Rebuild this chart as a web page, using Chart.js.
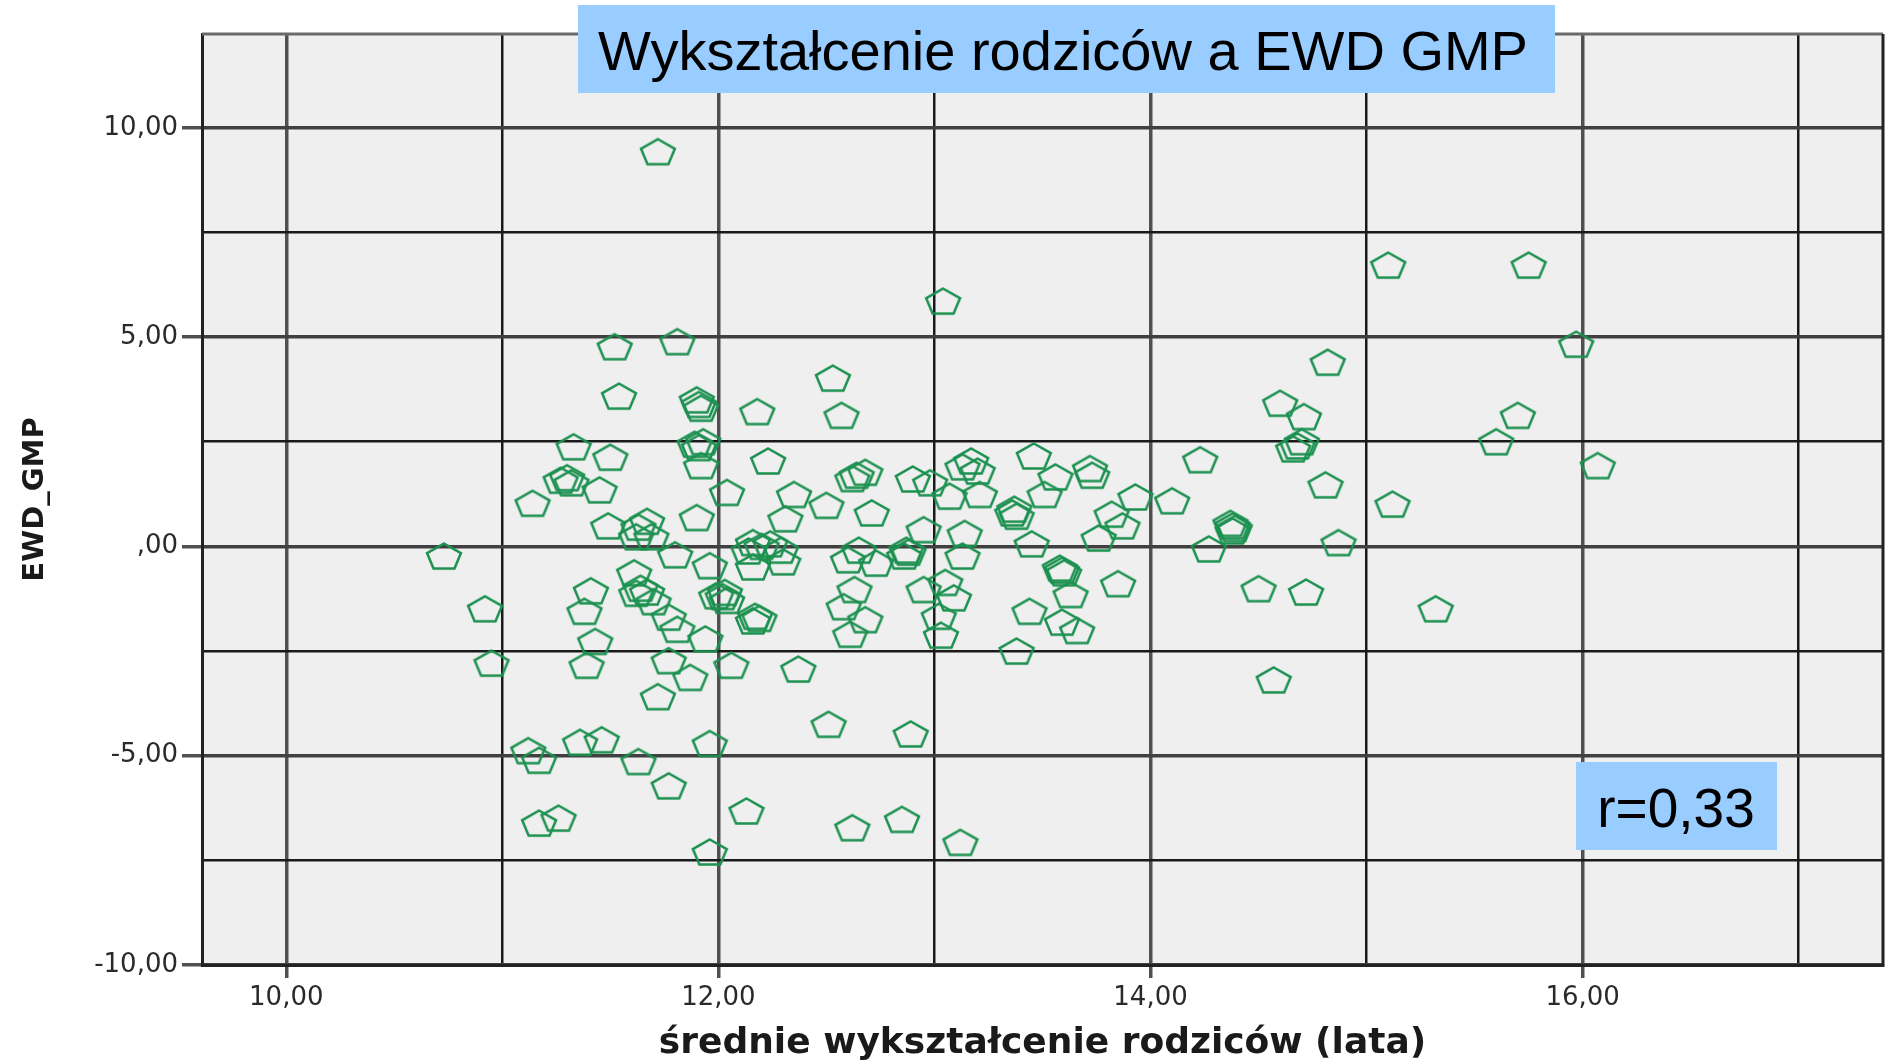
<!DOCTYPE html>
<html>
<head>
<meta charset="utf-8">
<title>Wykształcenie rodziców a EWD GMP</title>
<script src="https://cdn.jsdelivr.net/npm/chart.js"></script>
<style>
  html, body { margin: 0; padding: 0; background: #ffffff; overflow: hidden; }
  canvas { display: block; }
</style>
</head>
<body>
<canvas id="scatter" width="1889" height="1063"></canvas>
<script>
// average parents' education (years) for each school
const eduYears = [
  11.72, 13.04, 15.10, 15.75, 15.97, 14.82, 11.52, 11.81, 11.54, 11.90,
  11.91, 11.92, 12.18, 12.53, 12.57, 14.60, 14.71, 15.70, 15.60, 16.07,
  14.68, 14.70, 14.66, 15.12, 14.81, 14.87, 14.23, 14.10, 14.27, 14.38,
  14.39, 14.37, 14.38, 14.50, 14.72, 15.32, 14.57, 13.46, 13.72, 13.73,
  13.56, 13.51, 13.93, 13.37, 13.36, 13.38, 13.82, 13.87, 13.76, 13.45,
  13.59, 13.60, 13.58, 13.85, 13.63, 13.44, 13.59, 13.66, 13.38, 13.17,
  13.13, 13.20, 13.21, 13.07, 12.98, 12.90, 12.95, 13.14, 12.88, 12.86,
  12.87, 13.13, 12.95, 13.05, 13.09, 13.02, 13.03, 12.89, 12.85, 13.12,
  12.64, 12.68, 12.62, 12.35, 12.50, 12.71, 12.31, 12.23, 12.04, 12.65,
  12.60, 12.73, 12.63, 12.58, 12.68, 12.61, 12.37, 12.51, 12.62, 12.13,
  12.24, 12.16, 12.29, 12.20, 12.30, 12.16, 12.14, 12.17, 12.16, 12.19,
  12.03, 12.02, 12.04, 12.06, 11.91, 11.93, 11.89, 11.92, 11.90, 11.80,
  11.96, 11.77, 11.81, 11.94, 11.77, 11.87, 11.72, 11.96, 11.77, 11.96,
  11.99, 11.67, 11.63, 11.62, 11.69, 11.49, 11.61, 11.64, 11.62, 11.67,
  11.70, 11.41, 11.38, 11.43, 11.39, 11.36, 11.46, 11.63, 11.33, 11.50,
  11.30, 11.27, 11.32, 11.45, 11.14, 10.73, 10.92, 10.95, 11.12, 11.17,
  11.17, 11.26
];

// EWD GMP value of the same schools
const ewdGmp = [
   9.43,  5.86,  6.72,  6.72,  4.83,  4.40,  4.77,  4.89,  3.59,  3.50,
   3.39,  3.30,  3.22,  4.02,  3.13,  3.42,  3.10,  3.13,  2.50,  1.93,
   2.40,  2.50,  2.33,  1.01,  1.47,  0.09,  2.07,  1.09, -0.06,  0.49,
   0.43,  0.55,  0.37, -1.01, -1.09, -1.49, -3.19,  2.16,  1.86,  1.70,
   1.66,  1.24,  1.18,  0.89,  0.80,  0.72,  0.77,  0.49,  0.20,  0.06,
  -0.57, -0.63, -0.52, -0.89, -1.15, -1.55, -1.81, -2.01, -2.50,  2.04,
   1.90,  1.80,  1.24,  1.20,  1.52,  1.61,  0.40,  0.31, -0.14, -0.23,
  -0.09, -0.23, -1.03, -0.86, -1.23, -1.67, -2.12, -4.48, -6.52, -7.07,
   1.70,  1.77,  1.62,  1.24,  0.98,  0.80,  0.66,  2.04,  1.29, -0.09,
  -0.32, -0.40, -1.03, -1.44, -1.75, -2.10, -2.93, -4.25, -6.72, -6.32,
   0.06,  0.09, -0.09,  0.00, -0.37, -0.49, -0.11, -1.67, -1.78, -1.72,
  -1.10, -1.20, -1.29, -2.84,  2.36,  2.50,  2.44,  1.93,  0.69, -0.20,
  -0.46, -1.69, -1.98, -2.21, -2.73, -3.13, -3.59, -4.71, -5.72, -7.30,
  -1.18,  0.60,  0.46,  0.23,  0.23,  0.49, -0.63, -1.00, -1.12, -1.09,
  -1.32, -1.06, -1.55, -2.27, -2.84, -4.68, -4.62, -5.14,  2.38,  2.13,
   1.64,  1.58,  1.52,  1.35,  1.03, -0.23, -1.49, -2.79, -4.88, -5.11,
  -6.61, -6.49
];

// grid lines and which of them carry a label
const xTickValues = [10, 11, 12, 13, 14, 15, 16, 17];
const xLabelled = [10, 12, 14, 16];
const yTickValues = [-10, -7.5, -5, -2.5, 0, 2.5, 5, 7.5, 10];
const yLabelled = [-10, -5, 0, 5, 10];

const chartTitle = 'Wykształcenie rodziców a EWD GMP';
const corrLabel = 'r=0,33';
const xTitle = 'średnie wykształcenie rodziców (lata)';
const yTitle = 'EWD_GMP';

// SPSS style numbers: 10,00  5,00  ,00  -5,00
function spssNumber(v) {
  let s = Math.abs(v).toFixed(2).replace('.', ',');
  if (Math.abs(v) < 1) s = s.replace(/^0/, '');
  return (v < 0 ? '-' : '') + s;
}

// hollow pentagon marker, a bit wider than tall like in the picture
function makePentagon() {
  const c = document.createElement('canvas');
  c.width = 40;
  c.height = 32;
  const g = c.getContext('2d');
  const rx = 17.8, ry = 13.8;
  const cx = 20, cy = 16 + ry * 0.0955;
  g.beginPath();
  for (let k = 0; k < 5; k++) {
    const a = -Math.PI / 2 + k * 2 * Math.PI / 5;
    const px = cx + rx * Math.cos(a), py = cy + ry * Math.sin(a);
    if (k === 0) g.moveTo(px, py); else g.lineTo(px, py);
  }
  g.closePath();
  g.strokeStyle = '#1c9150';
  g.lineWidth = 2.5;
  g.lineJoin = 'miter';
  g.stroke();
  return c;
}

const plotDecor = {
  id: 'plotDecor',
  beforeDraw(chart) {
    const { ctx, chartArea: a } = chart;
    ctx.save();
    ctx.fillStyle = '#efefef';
    ctx.fillRect(a.left, a.top, a.right - a.left, a.bottom - a.top);
    ctx.restore();
  },
  beforeDatasetsDraw(chart) {
    const { ctx, chartArea: a } = chart;
    ctx.save();
    ctx.lineWidth = 3;
    ctx.strokeStyle = '#6a6a6a';
    ctx.beginPath();
    ctx.moveTo(a.left, a.top);
    ctx.lineTo(a.right, a.top);
    ctx.stroke();
    ctx.strokeStyle = '#222222';
    ctx.beginPath();
    ctx.moveTo(a.right, a.top);
    ctx.lineTo(a.right, a.bottom);
    ctx.stroke();
    ctx.restore();
  },
  afterDraw(chart) {
    const ctx = chart.ctx;
    ctx.save();
    // title box
    ctx.fillStyle = '#99ccff';
    ctx.fillRect(578, 5, 977, 88);
    ctx.fillStyle = '#000000';
    ctx.font = '56px "Liberation Sans", Arial, sans-serif';
    ctx.textBaseline = 'alphabetic';
    ctx.textAlign = 'center';
    ctx.fillText(chartTitle, 1063, 70);
    // correlation box
    ctx.fillStyle = '#99ccff';
    ctx.fillRect(1576, 762, 201, 88);
    ctx.fillStyle = '#000000';
    ctx.font = '55px "Liberation Sans", Arial, sans-serif';
    ctx.fillText(corrLabel, 1676, 827);
    ctx.restore();
  }
};

function isLabelled(list, v) {
  return list.some(t => Math.abs(t - v) < 1e-6);
}

const points = eduYears.map((x, i) => ({ x: x, y: ewdGmp[i] }));

new Chart(document.getElementById('scatter'), {
  type: 'scatter',
  data: {
    datasets: [{
      label: 'EWD_GMP',
      data: points,
      pointStyle: makePentagon(),
      pointRadius: 16,
      pointHoverRadius: 16
    }]
  },
  options: {
    responsive: false,
    maintainAspectRatio: false,
    animation: false,
    devicePixelRatio: 1,
    layout: { autoPadding: false, padding: { top: 34, right: 6, left: 0, bottom: 0 } },
    plugins: {
      legend: { display: false },
      tooltip: { enabled: false },
      title: { display: false }
    },
    scales: {
      x: {
        type: 'linear',
        min: 9.61,
        max: 17.39,
        afterBuildTicks: axis => { axis.ticks = xTickValues.map(v => ({ value: v })); },
        afterFit: axis => {
          axis.height = 98;
          axis.paddingLeft = 0;
          axis.paddingRight = 0;
        },
        ticks: {
          autoSkip: false,
          maxRotation: 0,
          padding: 5,
          color: '#2a2a2a',
          font: { family: '"DejaVu Sans", sans-serif', size: 26 },
          callback: v => isLabelled(xLabelled, v) ? spssNumber(v) : ''
        },
        grid: {
          color: c => isLabelled(xLabelled, c.tick.value) ? '#505050' : '#1a1a1a',
          lineWidth: c => isLabelled(xLabelled, c.tick.value) ? 3.5 : 2.5,
          tickColor: c => isLabelled(xLabelled, c.tick.value) ? '#505050' : 'rgba(0,0,0,0)',
          tickLength: 13,
          tickWidth: 3.5
        },
        border: { display: true, color: '#222222', width: 3 },
        title: {
          display: true,
          text: xTitle,
          color: '#1a1a1a',
          font: { family: '"DejaVu Sans", sans-serif', size: 36, weight: 'bold', lineHeight: 1.05 },
          padding: { top: 0, bottom: 0 }
        }
      },
      y: {
        type: 'linear',
        min: -10,
        max: 12.24,
        afterBuildTicks: axis => { axis.ticks = yTickValues.map(v => ({ value: v })); },
        afterFit: axis => { axis.width = 202; },
        ticks: {
          autoSkip: false,
          padding: 4,
          color: '#2a2a2a',
          font: { family: '"DejaVu Sans", sans-serif', size: 26 },
          callback: v => isLabelled(yLabelled, v) ? spssNumber(v) : ''
        },
        grid: {
          color: c => isLabelled(yLabelled, c.tick.value) ? '#404040' : '#1a1a1a',
          lineWidth: c => isLabelled(yLabelled, c.tick.value) ? 3.5 : 2.5,
          tickColor: c => isLabelled(yLabelled, c.tick.value) ? '#505050' : 'rgba(0,0,0,0)',
          tickLength: 20,
          tickWidth: 3.5
        },
        border: { display: true, color: '#222222', width: 3 },
        title: {
          display: true,
          text: yTitle,
          color: '#1a1a1a',
          font: { family: '"DejaVu Sans", sans-serif', size: 29, weight: 'bold' },
          padding: { top: 18, bottom: 0 }
        }
      }
    }
  },
  plugins: [plotDecor]
});
</script>
</body>
</html>
